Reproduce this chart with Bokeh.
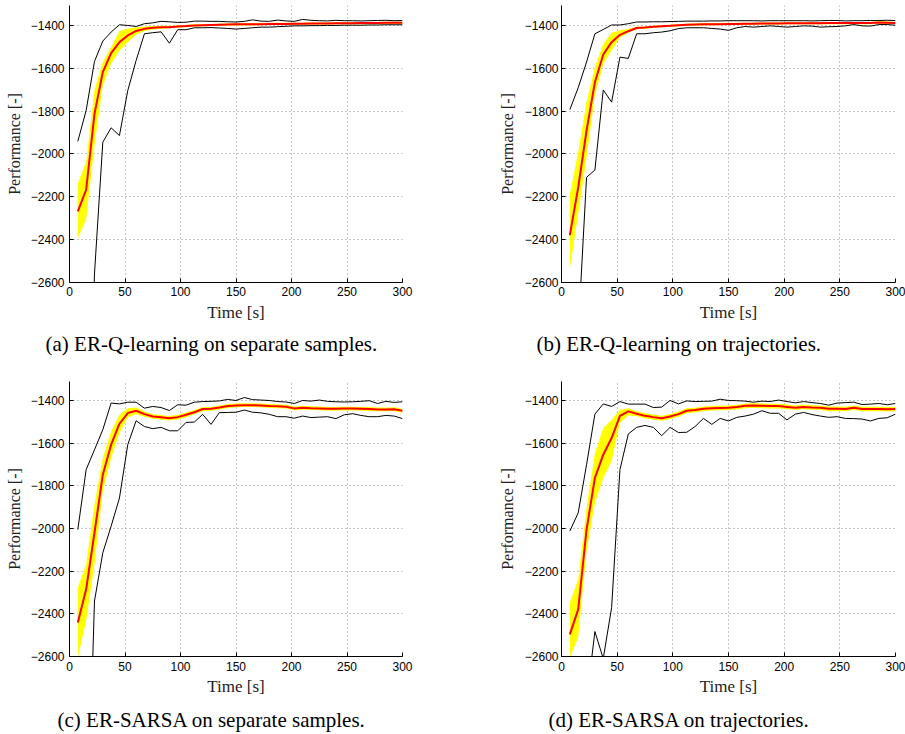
from bokeh.plotting import figure
from bokeh.layouts import column, row
from bokeh.models import Range1d, FixedTicker, Title
from bokeh.embed import file_html
from bokeh.resources import INLINE

time_s = [7.5, 15, 22.5, 30, 37.5, 45, 52.5, 60, 67.5, 75,
          82.5, 90, 97.5, 105, 112.5, 120, 127.5, 135, 142.5, 150,
          157.5, 165, 172.5, 180, 187.5, 195, 202.5, 210, 217.5, 225,
          232.5, 240, 247.5, 255, 262.5, 270, 277.5, 285, 292.5, 300]

x_ticks = [0, 50, 100, 150, 200, 250, 300]
y_ticks = [-2600, -2400, -2200, -2000, -1800, -1600, -1400]
y_tick_labels = ["\u22122600", "\u22122400", "\u22122200", "\u22122000",
                 "\u22121800", "\u22121600", "\u22121400"]
x_label = "Time [s]"
y_label = "Performance [-]"

captions = ["(a) ER-Q-learning on separate samples.",
            "(b) ER-Q-learning on trajectories.",
            "(c) ER-SARSA on separate samples.",
            "(d) ER-SARSA on trajectories."]

# (a) ER-Q-learning, separate samples
a_max = [-1941, -1797, -1568, -1473, -1431, -1397, -1400, -1405, -1392, -1388,
         -1381, -1383, -1386, -1385, -1380, -1380, -1381, -1381, -1383, -1384,
         -1381, -1374, -1380, -1381, -1375, -1379, -1381, -1372, -1376, -1378,
         -1379, -1376, -1378, -1378, -1379, -1378, -1377, -1376, -1378, -1377]
a_min = [-4200, -3900, -2560, -1945, -1878, -1914, -1704, -1564, -1439, -1434,
         -1430, -1483, -1420, -1420, -1411, -1411, -1410, -1412, -1414, -1417,
         -1414, -1411, -1408, -1408, -1406, -1404, -1402, -1402, -1401, -1401,
         -1400, -1400, -1399, -1399, -1399, -1398, -1398, -1397, -1397, -1397]
a_mean = [-2268, -2167, -1813, -1618, -1529, -1478, -1447, -1426, -1416, -1411,
          -1409, -1408, -1405, -1403, -1400, -1399, -1398, -1397, -1396, -1395,
          -1395, -1394, -1394, -1393, -1393, -1393, -1392, -1392, -1391, -1391,
          -1391, -1390, -1390, -1390, -1389, -1389, -1389, -1388, -1388, -1388]
a_lo = [-2393, -2304, -1960, -1680, -1579, -1517, -1478, -1444, -1426, -1419,
        -1415, -1413, -1410, -1408, -1405, -1404, -1403, -1402, -1401, -1400,
        -1400, -1399, -1399, -1398, -1398, -1398, -1397, -1397, -1396, -1396,
        -1396, -1395, -1395, -1395, -1394, -1394, -1394, -1393, -1393, -1393]
a_hi = [-2137, -2036, -1700, -1571, -1501, -1426, -1416, -1408, -1405, -1403,
        -1402, -1402, -1400, -1398, -1395, -1394, -1393, -1392, -1391, -1390,
        -1390, -1389, -1389, -1388, -1388, -1388, -1387, -1387, -1386, -1386,
        -1386, -1385, -1385, -1385, -1384, -1384, -1384, -1383, -1383, -1383]

# (b) ER-Q-learning, trajectories
b_max = [-1793, -1691, -1571, -1439, -1419, -1398, -1398, -1392, -1384, -1384,
         -1383, -1383, -1382, -1381, -1380, -1380, -1380, -1379, -1379, -1378,
         -1378, -1378, -1378, -1379, -1378, -1378, -1378, -1378, -1378, -1379,
         -1378, -1377, -1377, -1379, -1378, -1378, -1377, -1377, -1376, -1377]
b_min = [-3400, -2830, -2109, -2075, -1701, -1758, -1548, -1554, -1439, -1439,
         -1434, -1431, -1425, -1415, -1411, -1411, -1411, -1414, -1417, -1423,
         -1411, -1405, -1408, -1405, -1402, -1405, -1408, -1405, -1402, -1403,
         -1408, -1406, -1405, -1402, -1396, -1402, -1403, -1396, -1396, -1399]
b_mean = [-2379, -2156, -1891, -1665, -1536, -1478, -1444, -1427, -1412, -1410,
          -1406, -1404, -1402, -1399, -1397, -1396, -1395, -1394, -1394, -1393,
          -1393, -1392, -1392, -1391, -1391, -1391, -1390, -1390, -1390, -1390,
          -1390, -1389, -1389, -1389, -1389, -1389, -1389, -1386, -1387, -1389]
b_lo = [-2534, -2280, -2016, -1727, -1579, -1517, -1458, -1434, -1418, -1415,
        -1411, -1409, -1407, -1404, -1402, -1401, -1400, -1399, -1399, -1398,
        -1398, -1397, -1397, -1396, -1396, -1396, -1395, -1395, -1395, -1395,
        -1395, -1394, -1394, -1394, -1394, -1394, -1394, -1391, -1392, -1394]
b_hi = [-2187, -1992, -1758, -1595, -1486, -1434, -1423, -1417, -1406, -1405,
        -1401, -1399, -1397, -1394, -1392, -1391, -1390, -1389, -1389, -1388,
        -1388, -1387, -1387, -1386, -1386, -1386, -1385, -1385, -1385, -1385,
        -1385, -1384, -1384, -1384, -1384, -1384, -1384, -1381, -1382, -1384]

# (c) ER-SARSA, separate samples
c_max = [-2005, -1724, -1631, -1537, -1412, -1416, -1408, -1408, -1436, -1428,
         -1433, -1447, -1420, -1422, -1408, -1405, -1404, -1402, -1395, -1400,
         -1386, -1396, -1398, -1400, -1405, -1407, -1414, -1400, -1403, -1398,
         -1404, -1406, -1407, -1406, -1404, -1401, -1414, -1404, -1409, -1406]
c_min = [-4000, -3630, -2340, -2114, -1989, -1857, -1607, -1495, -1522, -1532,
         -1526, -1542, -1542, -1503, -1501, -1465, -1512, -1457, -1456, -1455,
         -1445, -1455, -1458, -1465, -1476, -1476, -1483, -1473, -1480, -1478,
         -1476, -1485, -1467, -1462, -1470, -1476, -1476, -1470, -1473, -1485]
c_mean = [-2441, -2285, -2020, -1748, -1607, -1509, -1459, -1448, -1464, -1475,
          -1479, -1483, -1478, -1467, -1455, -1440, -1439, -1433, -1426, -1423,
          -1422, -1422, -1423, -1426, -1427, -1429, -1437, -1434, -1436, -1437,
          -1439, -1439, -1438, -1438, -1439, -1440, -1442, -1442, -1441, -1448]
c_lo = [-2605, -2433, -2168, -1825, -1670, -1553, -1479, -1464, -1476, -1486,
        -1490, -1493, -1489, -1478, -1465, -1450, -1448, -1442, -1435, -1432,
        -1431, -1431, -1432, -1435, -1436, -1438, -1446, -1443, -1445, -1446,
        -1448, -1448, -1447, -1447, -1448, -1449, -1451, -1451, -1450, -1457]
c_hi = [-2277, -2168, -1888, -1670, -1545, -1467, -1436, -1433, -1452, -1464,
        -1468, -1473, -1467, -1456, -1445, -1430, -1430, -1424, -1417, -1414,
        -1413, -1413, -1414, -1417, -1418, -1420, -1428, -1425, -1427, -1428,
        -1430, -1430, -1429, -1429, -1430, -1431, -1433, -1433, -1432, -1439]

# (d) ER-SARSA, trajectories
d_max = [-2012, -1927, -1701, -1464, -1416, -1428, -1405, -1417, -1417, -1417,
         -1433, -1431, -1400, -1416, -1402, -1405, -1404, -1403, -1394, -1400,
         -1401, -1403, -1408, -1403, -1405, -1398, -1405, -1411, -1405, -1410,
         -1414, -1422, -1412, -1410, -1408, -1419, -1417, -1414, -1420, -1414]
d_min = [-3300, -3100, -2810, -2483, -2610, -2371, -1724, -1557, -1526, -1517,
         -1526, -1565, -1526, -1550, -1549, -1522, -1484, -1512, -1484, -1496,
         -1479, -1473, -1464, -1448, -1460, -1460, -1491, -1464, -1456, -1466,
         -1473, -1479, -1476, -1484, -1485, -1487, -1496, -1484, -1481, -1464]
d_mean = [-2496, -2379, -2005, -1763, -1654, -1576, -1472, -1451, -1462, -1472,
          -1478, -1483, -1475, -1464, -1448, -1445, -1439, -1436, -1435, -1434,
          -1431, -1425, -1424, -1425, -1426, -1426, -1430, -1434, -1430, -1433,
          -1434, -1439, -1439, -1440, -1434, -1440, -1440, -1440, -1441, -1440]
d_lo = [-2605, -2511, -2106, -1880, -1763, -1685, -1506, -1470, -1474, -1484,
        -1490, -1495, -1487, -1476, -1460, -1456, -1450, -1447, -1446, -1445,
        -1442, -1436, -1435, -1436, -1437, -1437, -1441, -1445, -1441, -1444,
        -1445, -1450, -1450, -1451, -1445, -1451, -1451, -1451, -1452, -1451]
d_hi = [-2347, -2238, -1903, -1646, -1529, -1490, -1444, -1436, -1450, -1460,
        -1466, -1471, -1463, -1452, -1436, -1434, -1428, -1425, -1424, -1423,
        -1420, -1414, -1413, -1414, -1415, -1415, -1419, -1423, -1419, -1422,
        -1423, -1428, -1428, -1429, -1423, -1429, -1429, -1429, -1430, -1429]


def panel(mean, lo, hi, vmax, vmin, caption, width, height, bl, br, bt, bb,
          ytop, tick_standoff, ylab_standoff, xlab_standoff, xtick_standoff,
          cap_offset, cap_standoff, spacer):
    p = figure(width=width, height=height, output_backend="svg",
               toolbar_location=None, title=None,
               x_range=Range1d(0, 300), y_range=Range1d(-2600, ytop),
               min_border_left=bl, min_border_right=br,
               min_border_top=bt, min_border_bottom=bb)
    p.outline_line_color = None
    p.background_fill_color = "white"
    p.border_fill_color = "white"

    p.varea(x=time_s, y1=lo, y2=hi, fill_color="#FFFF00", fill_alpha=1.0)
    p.line(time_s, vmax, line_color="black", line_width=1)
    p.line(time_s, vmin, line_color="black", line_width=1)
    p.line(time_s, mean, line_color="#FF0000", line_width=2)

    p.xaxis.ticker = FixedTicker(ticks=x_ticks)
    p.yaxis.ticker = FixedTicker(ticks=y_ticks)
    p.xgrid.ticker = FixedTicker(ticks=x_ticks)
    p.ygrid.ticker = FixedTicker(ticks=y_ticks)
    p.yaxis.major_label_overrides = dict(zip(y_ticks, y_tick_labels))

    for g in (p.xgrid, p.ygrid):
        g.grid_line_color = "#8c8c8c"
        g.grid_line_dash = "1 3"
        g.grid_line_width = 1

    for ax in (p.xaxis, p.yaxis):
        ax.axis_line_color = "black"
        ax.axis_line_width = 1
        ax.major_tick_in = 4
        ax.major_tick_out = 0
        ax.minor_tick_in = 0
        ax.minor_tick_out = 0
        ax.major_tick_line_color = "black"
        ax.major_label_text_font = "Liberation Sans"
        ax.major_label_text_font_size = "12px"
        ax.major_label_text_color = "black"
        ax.axis_label_text_font = "Liberation Serif"
        ax.axis_label_text_font_style = "normal"
        ax.axis_label_text_color = "#222222"

    p.xaxis.axis_label = x_label
    p.xaxis.axis_label_text_font_size = "17px"
    p.xaxis.axis_label_standoff = xlab_standoff
    p.xaxis.major_label_standoff = xtick_standoff

    p.yaxis.axis_label = y_label
    p.yaxis.axis_label_text_font_size = "16px"
    p.yaxis.axis_label_standoff = ylab_standoff
    p.yaxis.major_label_standoff = tick_standoff

    if spacer > 0:
        p.add_layout(Title(text=" ", standoff=spacer, text_font_size="1px",
                           text_font_style="normal"), "below")
    p.add_layout(Title(text=caption, align="left", offset=cap_offset,
                       standoff=cap_standoff, vertical_align="middle",
                       text_font="Liberation Serif", text_font_size="21px",
                       text_font_style="normal", text_color="black"), "below")
    return p


pa = panel(a_mean, a_lo, a_hi, a_max, a_min, captions[0], 453, 370,
           69, 51, 5, 88, -1307, 5, 5, 4, 4, -24, 13, 0)
pb = panel(b_mean, b_lo, b_hi, b_max, b_min, captions[1], 452, 370,
           108, 10, 5, 88, -1307, 3, 6, 4, 4, -25, 13, 0)
pc = panel(c_mean, c_lo, c_hi, c_max, c_min, captions[2], 453, 364,
           69, 51, 11, 77, -1311, 5, 5, 3, 5, -12, 4, 3)
pd = panel(d_mean, d_lo, d_hi, d_max, d_min, captions[3], 452, 364,
           108, 10, 11, 77, -1311, 3, 6, 3, 5, -13, 4, 3)

layout = column(row(pa, pb), row(pc, pd))
open("out.html", "w").write(file_html(layout, INLINE))
